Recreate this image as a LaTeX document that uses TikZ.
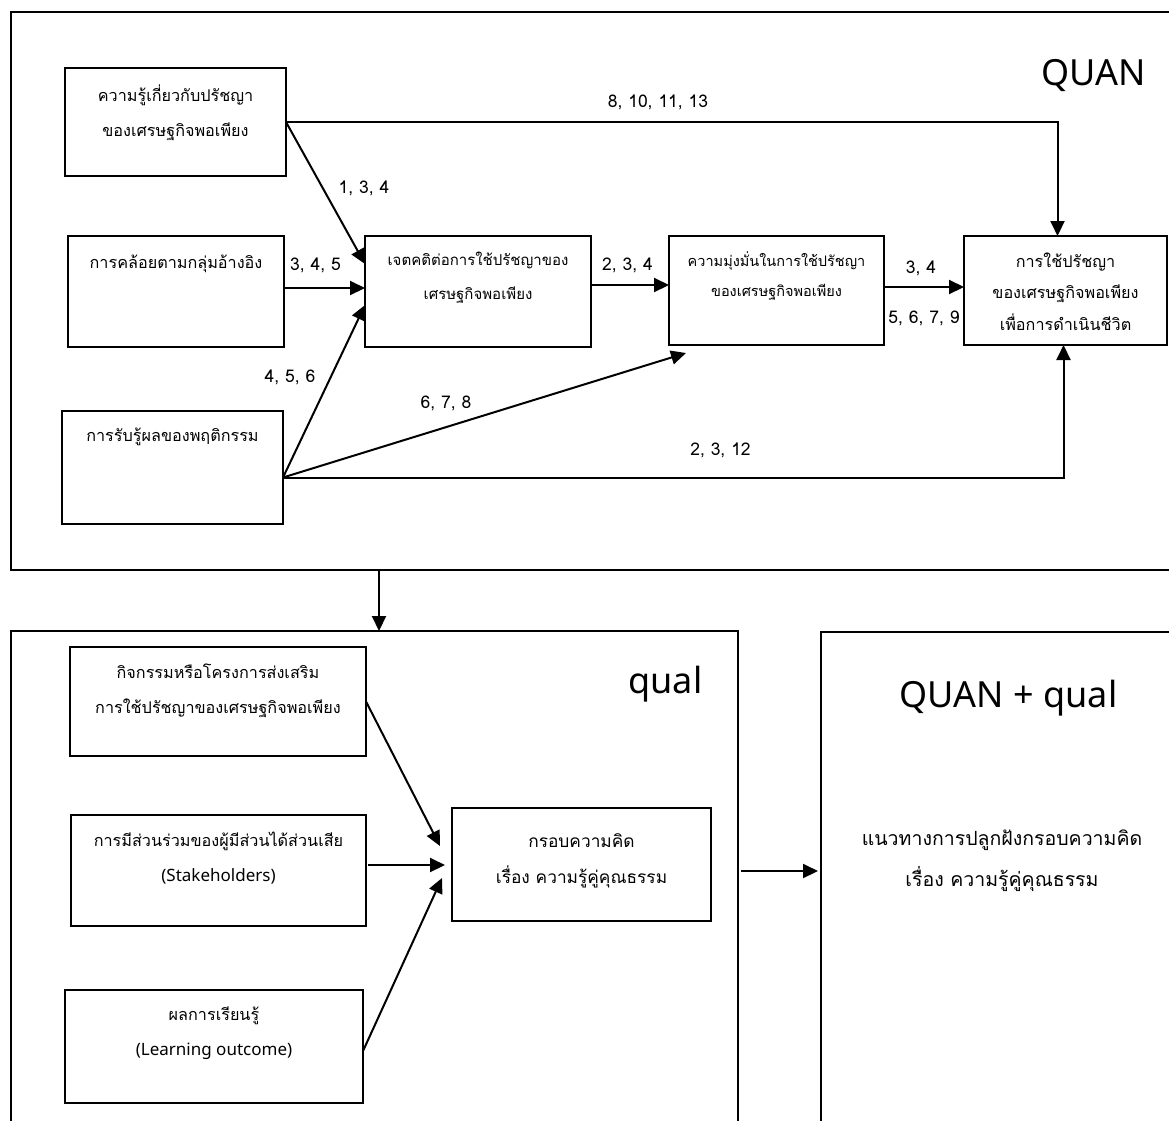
\documentclass[tikz,border=0pt]{standalone}
\usepackage{fontspec}
\setmainfont{Loma}[Script=Thai]
\newfontfamily\latinfont{Noto Sans}
\usetikzlibrary{positioning,calc,arrows.meta}

\begin{document}
\begin{tikzpicture}[x=1pt, y=-1pt]
\tikzset{
  cfframe/.style={draw, line width=2.6pt, inner sep=0pt, outer sep=0pt},
  cfbox/.style={draw, line width=2pt, inner sep=0pt, outer sep=0pt},
  cftext/.style={anchor=north, align=center, yshift=-13pt, font=\fontsize{16.2pt}{35pt}\selectfont},
  cfnum/.style={font=\fontsize{17.5pt}{22pt}\selectfont, inner sep=1pt},
  cfbig/.style={anchor=base, font=\latinfont\fontsize{36pt}{40pt}\selectfont},
  cfedge/.style={line width=2pt, -{Triangle[length=15pt, width=14pt]}}
}
\useasboundingbox[fill=white] (0,0) rectangle (1169,1120);

\node[cfframe, minimum width=1179pt, minimum height=558pt] (quan) at (600.5,291) {};
\node[cfframe, minimum width=727pt, minimum height=509pt] (qual) at (374.5,885.5) {};
\node[cfframe, minimum width=369pt, minimum height=508pt] (mix) at (1005.5,886) {};

\node[cfbox, minimum width=221pt, minimum height=108pt,
  label={[cftext]north:{ความรู้เกี่ยวกับปรัชญา\\ของเศรษฐกิจพอเพียง}}] (know) at (175.5,122) {};
\node[cfbox, minimum width=216pt, minimum height=111pt,
  label={[cftext, yshift=-2pt]north:{การคล้อยตามกลุ่มอ้างอิง}}] (norm) at (176,291.5) {};
\node[cfbox, minimum width=221pt, minimum height=113pt,
  label={[cftext]north:{การรับรู้ผลของพฤติกรรม}}] (perc) at (172.5,467.5) {};
\node[cfbox, minimum width=226pt, minimum height=111pt,
  label={[cftext, yshift=1pt, font=\fontsize{15pt}{34pt}\selectfont]north:{เจตคติต่อการใช้ปรัชญาของ\\เศรษฐกิจพอเพียง}}] (att) at (478,291.5) {};
\node[cfbox, minimum width=215pt, minimum height=109pt,
  label={[cftext, yshift=1pt, font=\fontsize{14.5pt}{30.5pt}\selectfont]north:{ความมุ่งมั่นในการใช้ปรัชญา\\ของเศรษฐกิจพอเพียง}}] (intent) at (776.5,290.5) {};
\node[cfbox, minimum width=203pt, minimum height=109pt,
  label={[cftext, font=\fontsize{16.2pt}{31.5pt}\selectfont]north:{การใช้ปรัชญา\\ของเศรษฐกิจพอเพียง\\เพื่อการดำเนินชีวิต}}] (use) at (1065.5,290.5) {};

\node[cfbox, minimum width=296pt, minimum height=109pt,
  label={[cftext]north:{กิจกรรมหรือโครงการส่งเสริม\\การใช้ปรัชญาของเศรษฐกิจพอเพียง}}] (act) at (218,701.5) {};
\node[cfbox, minimum width=295pt, minimum height=111pt,
  label={[cftext]north:{การมีส่วนร่วมของผู้มีส่วนได้ส่วนเสีย\\{\latinfont\fontsize{17pt}{35pt}\selectfont (Stakeholders)}}}] (stake) at (218.5,870.5) {};
\node[cfbox, minimum width=298pt, minimum height=113pt,
  label={[cftext]north:{ผลการเรียนรู้\\{\latinfont\fontsize{17pt}{35pt}\selectfont (Learning outcome)}}}] (learn) at (214,1046.5) {};
\node[cfbox, minimum width=259pt, minimum height=113pt,
  label={[cftext, yshift=-9pt, font=\fontsize{17.3pt}{36pt}\selectfont]north:{กรอบความคิด\\เรื่อง ความรู้คู่คุณธรรม}}] (cframe) at (581.5,864.5) {};

\node[cfbig] (quanlab) at (1093.5,85) {QUAN};
\node[cfbig] (quallab) at (665.5,693) {qual};
\node[cfbig] (mixlab) at (1008.5,707) {QUAN + qual};
\node[align=center, font=\fontsize{19.5pt}{41pt}\selectfont] (mixtxt) at (1002,861)
  {แนวทางการปลูกฝังกรอบความคิด\\เรื่อง ความรู้คู่คุณธรรม};

\coordinate (percout) at ([yshift=-10pt]perc.east);

\draw[cfedge] (know.east) -- ([yshift=27.5pt]att.west);
\draw[cfedge] (know.east) -| ([xshift=-8pt]use.north);
\draw[cfedge] ([yshift=3.5pt]norm.east) -- ($(norm.east -| att.west)+(0,3.5pt)$);
\draw[cfedge] (percout) -- ([yshift=-13.5pt]att.west);
\draw[cfedge] (percout) -- ($(intent.south west)+(17pt,-8pt)$);
\draw[cfedge] (percout) -| ([xshift=-2pt]use.south);
\draw[cfedge] ([yshift=6.5pt]att.east) -- ($(att.east -| intent.west)+(0,6.5pt)$);
\draw[cfedge] ([yshift=3.5pt]intent.east) -- ($(intent.east -| use.west)+(0,3.5pt)$);

\draw[cfedge] ($(quan.south)+(-221.5pt,0)$) -- ($(qual.north)+(4.5pt,0)$);

\draw[cfedge] (act.east) -- ($(cframe.west)+(-12pt,18.5pt)$);
\draw[cfedge] ($(stake.east)+(2pt,5.5pt)$) -- ($(stake.east -| cframe.west)+(-7pt,5.5pt)$);
\draw[cfedge] ([yshift=-4.5pt]learn.east) -- ($(cframe.west)+(-10pt,-13.5pt)$);
\draw[cfedge] ($(cframe.east -| qual.east)+(3pt,-6.5pt)$) -- ($(cframe.east -| mix.west)+(-3pt,-6.5pt)$);

\node[cfnum] (n1) at (364,188) {1, 3, 4};
\node[cfnum] (n2) at (315.5,265) {3, 4, 5};
\node[cfnum] (n3) at (290,377) {4, 5, 6};
\node[cfnum] (n4) at (446,403) {6, 7, 8};
\node[cfnum] (n5) at (720.5,450) {2, 3, 12};
\node[cfnum] (n6) at (658,102) {8, 10, 11, 13};
\node[cfnum] (n7) at (627.5,265) {2, 3, 4};
\node[cfnum] (n8) at (921,268) {3, 4};
\node[cfnum] (n9) at (924,318) {5, 6, 7, 9};
\end{tikzpicture}
\end{document}
